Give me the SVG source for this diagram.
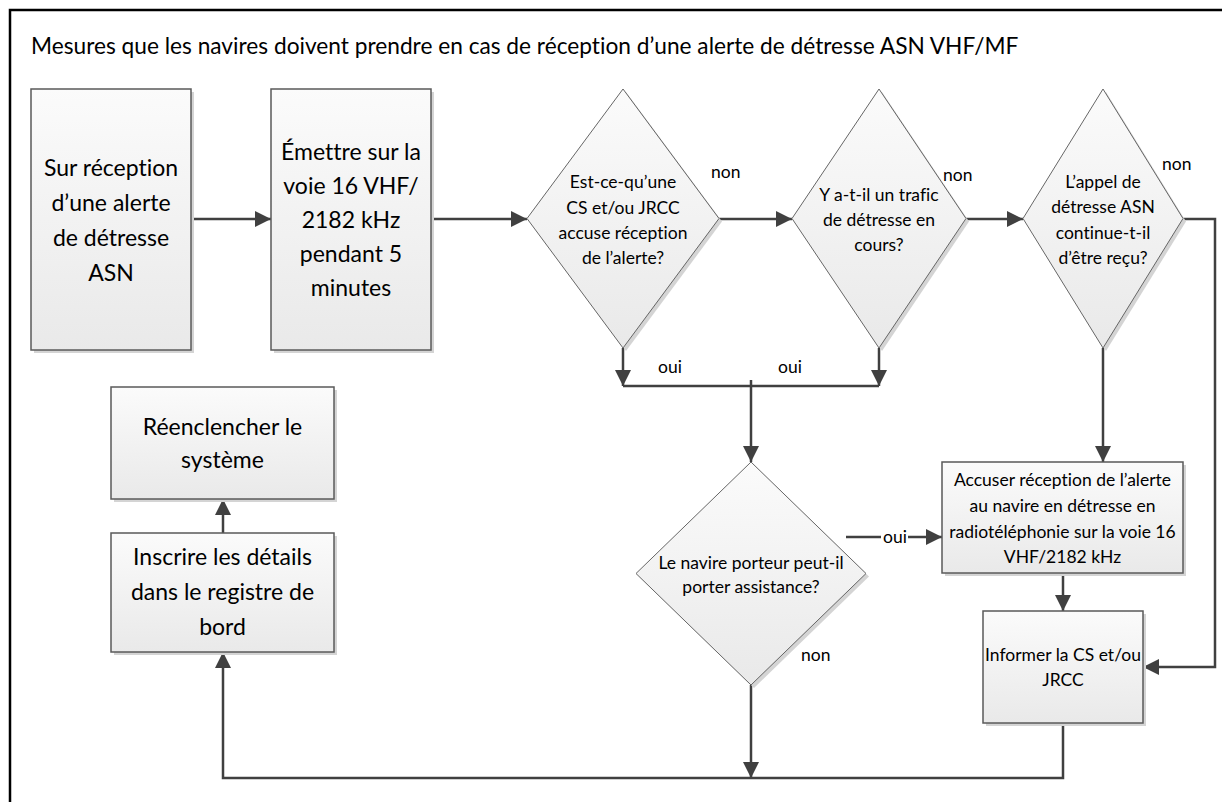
<svg xmlns="http://www.w3.org/2000/svg" width="1222" height="802" viewBox="0 0 1222 802">
  <defs>
    <linearGradient id="fillGrad" x1="0" y1="0" x2="0" y2="1">
      <stop offset="0" stop-color="#fbfbfb"/>
      <stop offset="1" stop-color="#e9e9e9"/>
    </linearGradient>
    <marker id="arrow" markerUnits="userSpaceOnUse" markerWidth="16" markerHeight="16" refX="16" refY="8" orient="auto">
      <path d="M0,0 L16,8 L0,16 z" fill="#404040"/>
    </marker>
    <style>
      .box { fill: url(#fillGrad); stroke: #5a5a5a; stroke-width: 1.5; }
      .dia { fill: url(#fillGrad); stroke: #666666; stroke-width: 1; }
      .shadow { fill: #d4d4d4; stroke: none; }
      .conn { fill: none; stroke: #404040; stroke-width: 2.5; }
      .arr { marker-end: url(#arrow); }
      text { font-family: Lato, "Liberation Sans", sans-serif; fill: #000; font-variant-ligatures: none; }
      .big { font-size: 23px; text-anchor: middle; }
      .small { font-size: 17.5px; text-anchor: middle; }
      .lbl { font-size: 17.5px; }
      .title { font-size: 22.7px; }
    </style>
  </defs>

  <rect width="1222" height="802" fill="#ffffff"/>

  <!-- outer frame: top and left edges only -->
  <path d="M10,802 V10 H1222" fill="none" stroke="#000000" stroke-width="2.5"/>

  <text class="title" x="31" y="54">Mesures que les navires doivent prendre en cas de réception d’une alerte de détresse ASN VHF/MF</text>

  <!-- connectors -->
  <g id="connectors">
    <path class="conn arr" d="M191,219 H271"/>
    <path class="conn arr" d="M431,219 H527"/>
    <path class="conn arr" d="M719,219 H792"/>
    <path class="conn arr" d="M966,219 H1023"/>
    <path class="conn arr" d="M623,348 V386"/>
    <path class="conn arr" d="M879,348 V386"/>
    <path class="conn" d="M623,386 H879"/>
    <path class="conn arr" d="M751,380 V462"/>
    <path class="conn arr" d="M1103,348 V462"/>
    <path class="conn arr" d="M1183,219 H1215 V667 H1143"/>
    <path class="conn" d="M846,537 H881"/>
    <path class="conn arr" d="M908,537 H942"/>
    <path class="conn arr" d="M1063,573 V611"/>
    <path class="conn arr" d="M751,685 V778"/>
    <path class="conn arr" d="M1063,723 V778 H223 V652"/>
    <path class="conn arr" d="M223,533 V499"/>
    <text class="lbl" x="711" y="178">non</text>
    <text class="lbl" x="943" y="181">non</text>
    <text class="lbl" x="1162" y="170">non</text>
    <text class="lbl" x="658" y="373">oui</text>
    <text class="lbl" x="778" y="373">oui</text>
    <text class="lbl" x="883" y="543">oui</text>
    <text class="lbl" x="801" y="661">non</text>
  </g>

  <!-- start: alert received -->
  <g id="node-reception">
    <rect class="shadow" x="34" y="92" width="160" height="261"/>
    <rect class="box" x="31" y="89" width="160" height="261"/>
    <text class="big" x="111"><tspan x="111" y="176">Sur réception</tspan><tspan x="111" y="211">d’une alerte</tspan><tspan x="111" y="246">de détresse</tspan><tspan x="111" y="281">ASN</tspan></text>
  </g>

  <g id="node-emettre">
    <rect class="shadow" x="274" y="92" width="160" height="261"/>
    <rect class="box" x="271" y="89" width="160" height="261"/>
    <text class="big"><tspan x="351" y="160">Émettre sur la</tspan><tspan x="351" y="194">voie 16 VHF/</tspan><tspan x="351" y="228">2182 kHz</tspan><tspan x="351" y="262">pendant 5</tspan><tspan x="351" y="296">minutes</tspan></text>
  </g>

  <g id="node-accuse-cs">
    <polygon class="shadow" points="626,92 722,221.5 626,351 530,221.5"/>
    <polygon class="dia" points="623,89 719,218.5 623,348 527,218.5"/>
    <text class="small"><tspan x="623" y="188">Est-ce-qu’une</tspan><tspan x="623" y="214">CS et/ou JRCC</tspan><tspan x="623" y="239">accuse réception</tspan><tspan x="623" y="264">de l’alerte?</tspan></text>
  </g>

  <g id="node-trafic">
    <polygon class="shadow" points="882,92 969,221.5 882,351 795,221.5"/>
    <polygon class="dia" points="879,89 966,218.5 879,348 792,218.5"/>
    <text class="small"><tspan x="879" y="201">Y a-t-il un trafic</tspan><tspan x="879" y="226">de détresse en</tspan><tspan x="879" y="251">cours?</tspan></text>
  </g>

  <g id="node-appel-continue">
    <polygon class="shadow" points="1106,92 1186,221.5 1106,351 1026,221.5"/>
    <polygon class="dia" points="1103,89 1183,218.5 1103,348 1023,218.5"/>
    <text class="small"><tspan x="1103" y="188">L’appel de</tspan><tspan x="1103" y="213">détresse ASN</tspan><tspan x="1103" y="239">continue-t-il</tspan><tspan x="1103" y="264">d’être reçu?</tspan></text>
  </g>

  <g id="node-assistance">
    <polygon class="shadow" points="754,465 869,576.5 754,688 639,576.5"/>
    <polygon class="dia" points="751,462 866,573.5 751,685 636,573.5"/>
    <text class="small"><tspan x="751" y="569">Le navire porteur peut-il</tspan><tspan x="751" y="593">porter assistance?</tspan></text>
  </g>

  <g id="node-accuser">
    <rect class="shadow" x="945" y="465" width="241" height="111"/>
    <rect class="box" x="942" y="462" width="241" height="111"/>
    <text class="small"><tspan x="1062.5" y="486">Accuser réception de l’alerte</tspan><tspan x="1062.5" y="512">au navire en détresse en</tspan><tspan x="1062.5" y="538">radiotéléphonie sur la voie 16</tspan><tspan x="1062.5" y="563">VHF/2182 kHz</tspan></text>
  </g>

  <g id="node-informer">
    <rect class="shadow" x="986" y="614" width="160" height="112"/>
    <rect class="box" x="983" y="611" width="160" height="112"/>
    <text class="small"><tspan x="1063" y="661">Informer la CS et/ou</tspan><tspan x="1063" y="686">JRCC</tspan></text>
  </g>

  <g id="node-reenclencher">
    <rect class="shadow" x="114" y="390" width="223" height="112"/>
    <rect class="box" x="111" y="387" width="223" height="112"/>
    <text class="big"><tspan x="222.5" y="435">Réenclencher le</tspan><tspan x="222.5" y="468">système</tspan></text>
  </g>

  <g id="node-inscrire">
    <rect class="shadow" x="114" y="536" width="223" height="119"/>
    <rect class="box" x="111" y="533" width="223" height="119"/>
    <text class="big"><tspan x="222.5" y="565">Inscrire les détails</tspan><tspan x="222.5" y="600">dans le registre de</tspan><tspan x="222.5" y="635">bord</tspan></text>
  </g>
</svg>
